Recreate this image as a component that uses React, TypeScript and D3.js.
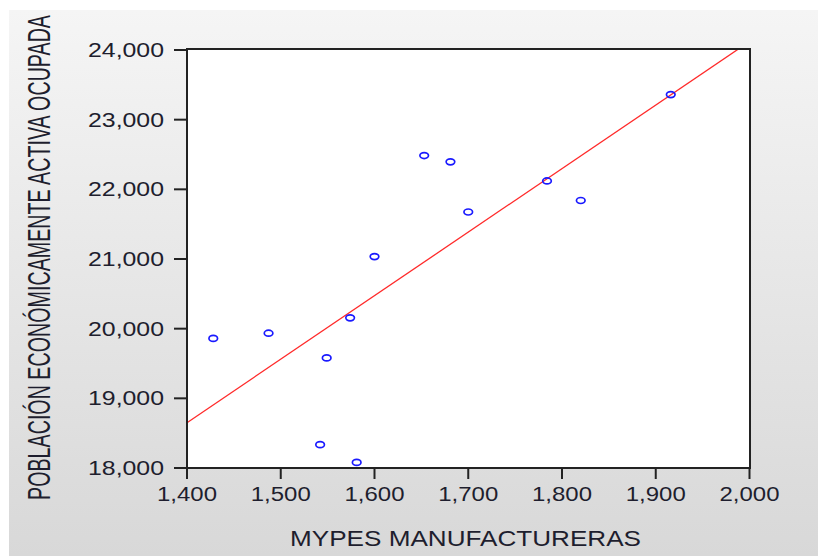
import React from "react";
import * as d3 from "d3";

// Manufacturing MYPEs (x) versus employed economically active population (y)
const mypes = [1428, 1487, 1542, 1549, 1574, 1581, 1600, 1653, 1681, 1700, 1784, 1820, 1916];
const poblacion = [19860, 19935, 18335, 19580, 20155, 18080, 21035, 22485, 22395, 21675, 22120, 21840, 23360];

const xTicks = [1400, 1500, 1600, 1700, 1800, 1900, 2000];
const yTicks = [18000, 19000, 20000, 21000, 22000, 23000, 24000];

const xTitle = "MYPES MANUFACTURERAS";
const yTitle = "POBLACIÓN ECONÓMICAMENTE ACTIVA OCUPADA";

const W = 818;
const H = 556;
const plot = { left: 187, right: 750, top: 49, bottom: 468 };
const FONT = "'Liberation Sans', Arial, Helvetica, sans-serif";
const INK = "#1e1e2e";

const fmt = d3.format(",");

export default function App() {
  const x = d3.scaleLinear().domain([1400, 2000]).range([plot.left, plot.right - 0.5]);
  const y = d3.scaleLinear().domain([18000, 24000]).range([plot.bottom, plot.top + 1]);

  // ordinary least squares fit
  const mx = d3.mean(mypes)!;
  const my = d3.mean(poblacion)!;
  let sxy = 0;
  let sxx = 0;
  mypes.forEach((v, i) => {
    sxy += (v - mx) * (poblacion[i] - my);
    sxx += (v - mx) * (v - mx);
  });
  const slope = sxy / sxx;
  const intercept = my - slope * mx;
  const fitX = [1400, 2000];
  const fitLine = d3
    .line<number>()
    .x((d) => x(d))
    .y((d) => y(intercept + slope * d))(fitX);

  return (
    <svg
      width={W}
      height={H}
      style={{ position: "absolute", left: 0, top: 0, background: "#fff" }}
    >
      <defs>
        <linearGradient id="bg" x1="0" y1="0" x2="0" y2="1">
          <stop offset="0" stopColor="#f5f5f5" />
          <stop offset="1" stopColor="#d8d8d8" />
        </linearGradient>
        <clipPath id="plotClip">
          <rect
            x={plot.left}
            y={plot.top}
            width={plot.right - plot.left}
            height={plot.bottom - plot.top}
          />
        </clipPath>
      </defs>
      <rect x={9} y={10} width={W - 9} height={H - 10} fill="url(#bg)" />
      <rect
        x={plot.left}
        y={plot.top}
        width={plot.right - plot.left}
        height={plot.bottom - plot.top}
        fill="#fff"
      />

      {/* regression line */}
      <path
        d={fitLine!}
        fill="none"
        stroke="#ff2a2a"
        strokeWidth={1.3}
        clipPath="url(#plotClip)"
      />

      {/* observations */}
      {mypes.map((v, i) => (
        <ellipse
          key={i}
          cx={x(v)}
          cy={y(poblacion[i])}
          rx={4.3}
          ry={3}
          fill="none"
          stroke="#1a1aff"
          strokeWidth={1.7}
        />
      ))}

      {/* frame */}
      <rect
        x={plot.left}
        y={plot.top}
        width={plot.right - plot.left}
        height={plot.bottom - plot.top}
        fill="none"
        stroke="#222"
        strokeWidth={2}
      />

      {/* y axis */}
      {yTicks.map((t) => (
        <g key={t}>
          <line
            x1={plot.left - 13}
            x2={plot.left}
            y1={y(t)}
            y2={y(t)}
            stroke="#222"
            strokeWidth={2}
          />
          <text
            x={164}
            y={y(t) + 7}
            textAnchor="end"
            fontFamily={FONT}
            fontSize={20}
            fill={INK}
            textLength={76}
            lengthAdjust="spacingAndGlyphs"
          >
            {fmt(t)}
          </text>
        </g>
      ))}

      {/* x axis */}
      {xTicks.map((t) => (
        <g key={t}>
          <line
            x1={x(t)}
            x2={x(t)}
            y1={plot.bottom}
            y2={plot.bottom + 11}
            stroke="#222"
            strokeWidth={2}
          />
          <text
            x={x(t)}
            y={500.5}
            textAnchor="middle"
            fontFamily={FONT}
            fontSize={20.5}
            fill={INK}
            textLength={60}
            lengthAdjust="spacingAndGlyphs"
          >
            {fmt(t)}
          </text>
        </g>
      ))}

      <text
        x={465.5}
        y={546}
        textAnchor="middle"
        fontFamily={FONT}
        fontSize={21.3}
        fill={INK}
        textLength={351}
        lengthAdjust="spacingAndGlyphs"
      >
        {xTitle}
      </text>

      <g transform="translate(50, 257.5) rotate(-90) scale(1, 1.57)">
        <text
          x={0}
          y={0}
          textAnchor="middle"
          fontFamily={FONT}
          fontSize={19.5}
          fill={INK}
          textLength={485}
          lengthAdjust="spacingAndGlyphs"
        >
          {yTitle}
        </text>
      </g>
    </svg>
  );
}
